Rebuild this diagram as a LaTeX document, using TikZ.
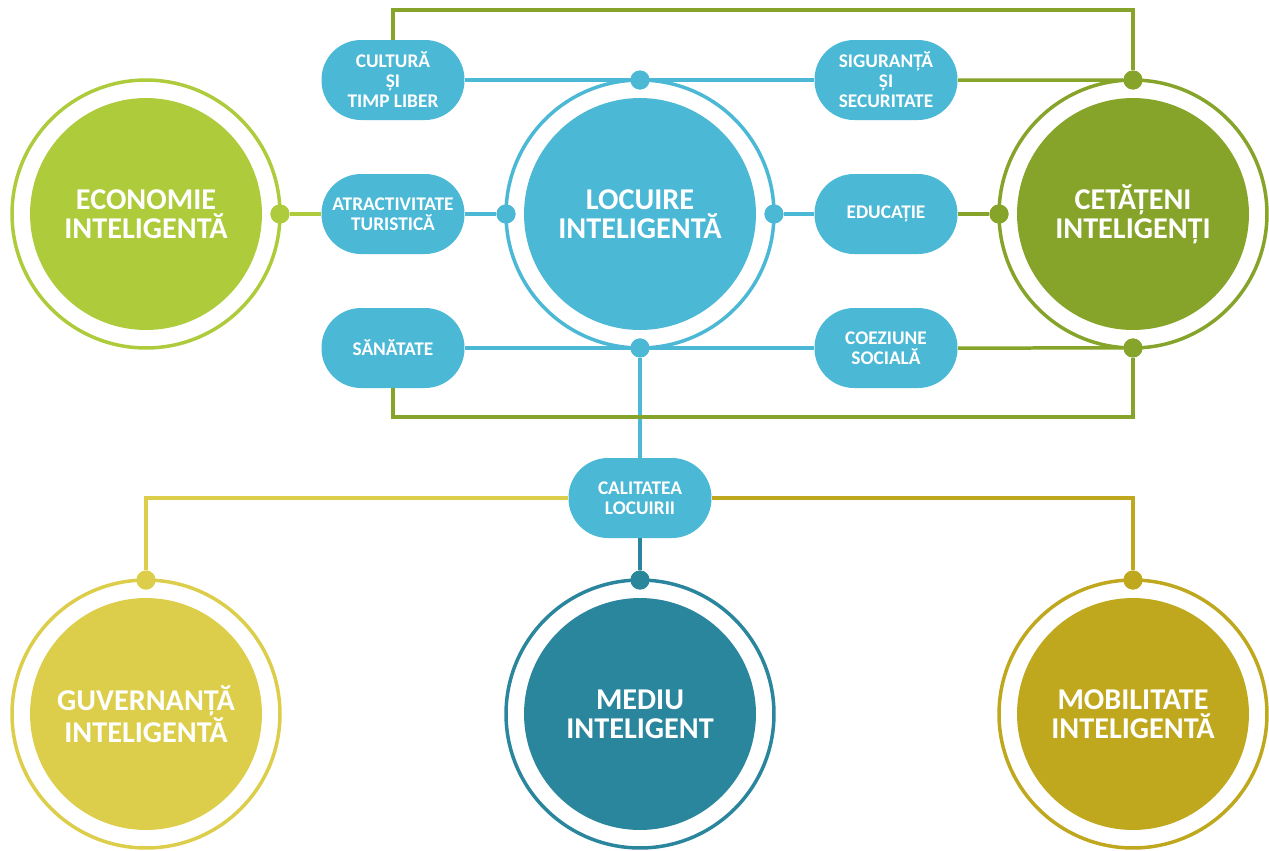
\documentclass[tikz,border=0pt]{standalone}
\usepackage{fontspec}
\setmainfont{Carlito}
\usepackage{xcolor}
\usepackage{tikz}
\definecolor{ecogreen}{RGB}{173, 203, 59}
\definecolor{locblue}{RGB}{75, 184, 214}
\definecolor{cetgreen}{RGB}{135, 164, 42}
\definecolor{guvyellow}{RGB}{220, 206, 74}
\definecolor{medteal}{RGB}{42, 134, 157}
\definecolor{mobgold}{RGB}{191, 168, 29}

\begin{document}
\begin{tikzpicture}[
    x=0.02cm, y=-0.02cm,
    ring/.style={circle, draw=#1, line width=0.07cm, minimum size=5.36cm, inner sep=0pt, outer sep=0pt},
    core/.style={circle, fill=#1, minimum size=4.64cm, inner sep=0pt, text=white, align=center, font=\bfseries\fontsize{17.2}{16.5}\selectfont},
    pill/.style={rectangle, rounded corners=0.79cm, fill=locblue, minimum width=2.86cm, minimum height=1.6cm, inner sep=0pt, text=white, align=center, font=\bfseries\fontsize{11}{11.4}\selectfont},
    link/.style={line width=0.07cm, draw=#1},
    dot/.style={circle, fill=#1, minimum size=0.38cm, inner sep=0pt}
]
\useasboundingbox (0,0) rectangle (1269,850);

% domenii
\node[ring=ecogreen] (eco) at (146,214) {};
\node[core=ecogreen] (ecotext) at (eco) {ECONOMIE\\INTELIGENTĂ};
\node[ring=locblue] (loc) at (640,214) {};
\node[core=locblue] (loctext) at (loc) {LOCUIRE\\INTELIGENTĂ};
\node[ring=cetgreen] (cet) at (1133,214) {};
\node[core=cetgreen] (cettext) at (cet) {CETĂȚENI\\INTELIGENȚI};
\node[ring=guvyellow] (guv) at (146,714) {};
\node[core=guvyellow] (guvtext) at (guv) {GUVERNANȚĂ\\INTELIGENTĂ};
\node[ring=medteal] (med) at (640,714) {};
\node[core=medteal] (medtext) at (med) {MEDIU\\INTELIGENT};
\node[ring=mobgold] (mob) at (1133,714) {};
\node[core=mobgold] (mobtext) at (mob) {MOBILITATE\\INTELIGENTĂ};

% teme
\node[pill] (cul) at (393,80) {CULTURĂ\\ȘI\\TIMP LIBER};
\node[pill] (atr) at (393,214) {ATRACTIVITATE\\TURISTICĂ};
\node[pill] (san) at (393,348) {SĂNĂTATE};
\node[pill] (sig) at (886,80) {SIGURANȚĂ\\ȘI\\SECURITATE};
\node[pill] (edu) at (886,214) {EDUCAȚIE};
\node[pill] (coe) at (886,348) {COEZIUNE\\SOCIALĂ};
\node[pill] (cal) at (640,498) {CALITATEA\\LOCUIRII};

\node[dot=locblue] (locN) at (loc.north) {};
\node[dot=locblue] (locW) at (loc.west) {};
\node[dot=locblue] (locE) at (loc.east) {};
\node[dot=locblue] (locS) at (loc.south) {};
\node[dot=ecogreen] (ecoE) at (eco.east) {};
\node[dot=cetgreen] (cetN) at (cet.north) {};
\node[dot=cetgreen] (cetW) at (cet.west) {};
\node[dot=cetgreen] (cetS) at (cet.south) {};
\node[dot=guvyellow] (guvN) at (guv.north) {};
\node[dot=medteal] (medN) at (med.north) {};
\node[dot=mobgold] (mobN) at (mob.north) {};

\coordinate (topline) at (0,10);
\coordinate (botline) at (0,417);

\draw[link=locblue] (cul.east) -- (sig.west);
\draw[link=locblue] (atr.east) -- (locW);
\draw[link=locblue] (locE) -- (edu.west);
\draw[link=locblue] (san.east) -- (coe.west);
\draw[link=locblue] (locS) -- (cal.north);

\draw[link=cetgreen] (cul.north) |- (topline -| cetN) -- (cetN);
\draw[link=cetgreen] (sig.east) -- (cetN);
\draw[link=cetgreen] (edu.east) -- (cetW);
\draw[link=cetgreen] (coe.east) -- (cetS);
\draw[link=cetgreen] (cetS) -- (botline -| cetS) -| (san.south);
\draw[link=ecogreen] (ecoE) -- (atr.west);

\draw[link=guvyellow] (cal.west) -| (guvN);
\draw[link=medteal] (cal.south) -- (medN);
\draw[link=mobgold] (cal.east) -| (mobN);

% puncte deasupra liniilor
\foreach \d/\c in {locN/locblue, locW/locblue, locE/locblue, locS/locblue, ecoE/ecogreen, cetN/cetgreen, cetW/cetgreen, cetS/cetgreen, guvN/guvyellow, medN/medteal, mobN/mobgold}
  \fill[\c] (\d) circle (0.19cm);
\end{tikzpicture}
\end{document}
